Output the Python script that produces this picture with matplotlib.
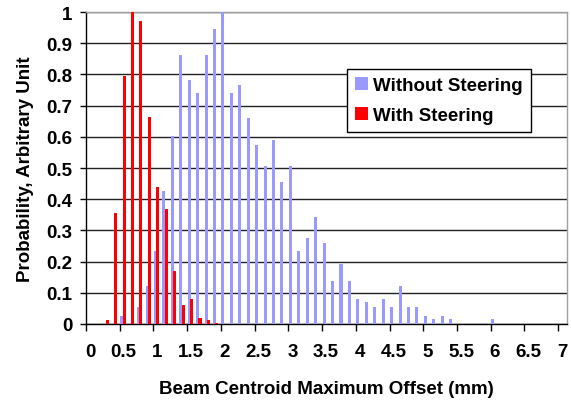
import matplotlib
matplotlib.use("Agg")
import matplotlib.pyplot as plt
from matplotlib.patches import Patch
from matplotlib.transforms import ScaledTranslation

# ---- data ----
without_x = [0.53, 0.78, 0.905, 1.03, 1.155, 1.28, 1.405, 1.53, 1.655, 1.78,
             1.905, 2.03, 2.155, 2.28, 2.405, 2.53, 2.655, 2.78, 2.905, 3.03,
             3.155, 3.28, 3.405, 3.53, 3.655, 3.78, 3.905, 4.03, 4.155, 4.28,
             4.405, 4.53, 4.655, 4.78, 4.905, 5.03, 5.155, 5.28, 5.405, 6.03]
without_y = [0.026, 0.054, 0.123, 0.234, 0.425, 0.602, 0.861, 0.781, 0.740, 0.861,
             0.947, 1.0, 0.740, 0.766, 0.660, 0.574, 0.506, 0.590, 0.454, 0.506,
             0.234, 0.275, 0.342, 0.260, 0.137, 0.192, 0.138, 0.080, 0.069, 0.054,
             0.080, 0.054, 0.123, 0.054, 0.054, 0.026, 0.016, 0.026, 0.016, 0.016]
with_x = [0.315, 0.44, 0.565, 0.69, 0.815, 0.94, 1.065, 1.19, 1.315, 1.44,
          1.565, 1.69, 1.815, 1.94]
with_y = [0.013, 0.356, 0.794, 1.0, 0.970, 0.664, 0.438, 0.368, 0.169, 0.062,
          0.081, 0.019, 0.013, 0.004]
x_ticks = [0, 0.5, 1, 1.5, 2, 2.5, 3, 3.5, 4, 4.5, 5, 5.5, 6, 6.5, 7]
x_tick_labels = ["0", "0.5", "1", "1.5", "2", "2.5", "3", "3.5", "4", "4.5",
                 "5", "5.5", "6", "6.5", "7"]
y_ticks = [0, 0.1, 0.2, 0.3, 0.4, 0.5, 0.6, 0.7, 0.8, 0.9, 1.0]
y_tick_labels = ["0", "0.1", "0.2", "0.3", "0.4", "0.5", "0.6", "0.7", "0.8", "0.9", "1"]
series_names = ["Without Steering", "With Steering"]

# ---- style ----
plt.rcParams['font.family'] = ['Liberation Sans', 'DejaVu Sans']
plt.rcParams['font.weight'] = 'bold'
FS = 13.5
W, H = 571, 402
fig = plt.figure(figsize=(W / 100, H / 100), dpi=100)
L, R, T, B = 86, 567, 13, 325
ax = fig.add_axes([L / W, (H - B) / H, (R - L) / W, (B - T) / H])

blue = '#9999FF'
red = '#FF0000'
bw = 0.045
ax.bar(without_x, without_y, width=bw, color=blue, linewidth=0, zorder=3)
ax.bar(with_x, with_y, width=bw, color=red, linewidth=0, zorder=3)

ax.set_xlim(0, 7.13)
ax.set_ylim(0, 1.0)
ax.set_xticks(x_ticks)
ax.set_xticklabels(x_tick_labels, fontsize=FS, fontweight='bold')
ax.set_yticks(y_ticks)
ax.set_yticklabels(y_tick_labels, fontsize=FS, fontweight='bold')
ax.tick_params(axis='x', direction='out', length=5, width=1, pad=9, color='black')
ax.tick_params(axis='y', direction='out', length=4.3, width=1, pad=5.5, color='black')
for lab in ax.get_xticklabels():
    lab.set_transform(lab.get_transform() + ScaledTranslation(4 / 100, 0, fig.dpi_scale_trans))

ax.yaxis.grid(True, color='#222222', linewidth=1.0, zorder=0)
ax.set_axisbelow(True)
for s in ['left', 'bottom']:
    ax.spines[s].set_color('black')
    ax.spines[s].set_linewidth(1.0)
for s in ['top', 'right']:
    ax.spines[s].set_color('#a0a0a0')
    ax.spines[s].set_linewidth(1.0)

fig.text(326.5 / W, 1 - 390 / H, "Beam Centroid Maximum Offset (mm)",
         ha='center', va='center', fontsize=FS, fontweight='bold')
fig.text(26 / W, 1 - 169 / H, "Probability, Arbitrary Unit",
         ha='center', va='center', rotation=90, fontsize=FS, fontweight='bold')

handles = [Patch(facecolor=blue, edgecolor='none'), Patch(facecolor=red, edgecolor='none')]
leg = ax.legend(handles, series_names, loc='upper left',
                bbox_to_anchor=(347 / W, 1 - 70 / H), bbox_transform=fig.transFigure,
                borderaxespad=0, prop={'weight': 'bold', 'size': FS},
                handlelength=0.68, handleheight=0.68, handletextpad=0.3,
                borderpad=0.42, labelspacing=0.72, fancybox=False, framealpha=1,
                edgecolor='black')
leg.get_frame().set_linewidth(1.0)
leg.set_zorder(5)

fig.savefig("out.png", dpi=100)
